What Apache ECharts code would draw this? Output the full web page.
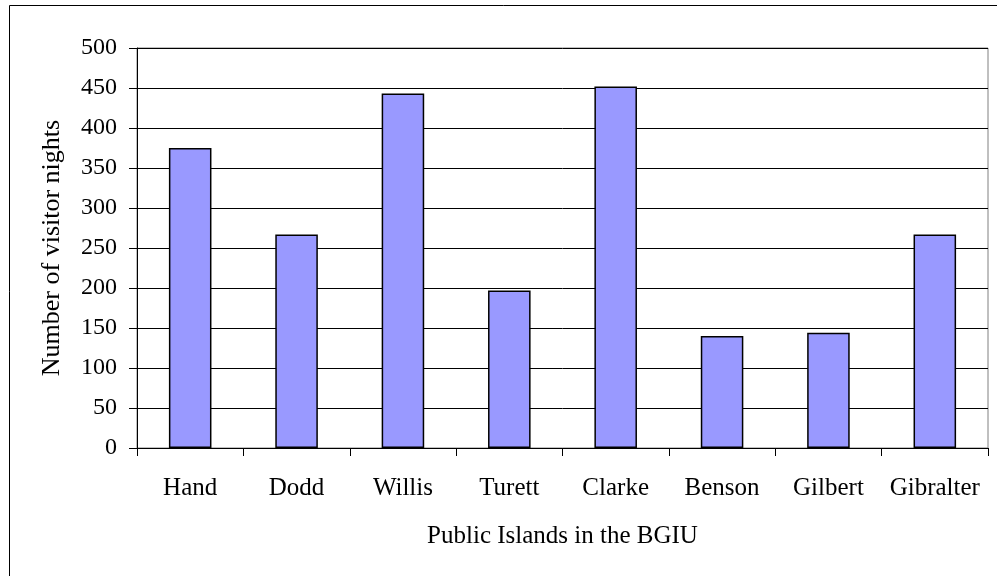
<!DOCTYPE html>
<html>
<head>
<meta charset="utf-8">
<script src="https://cdn.jsdelivr.net/npm/echarts@6/dist/echarts.min.js"></script>
<style>
  html, body { margin: 0; padding: 0; background: #fff; }
</style>
</head>
<body>
<div id="chart" style="width: 997px; height: 576px;"></div>
<script>
// islands and visitor nights
const islands = ['Hand', 'Dodd', 'Willis', 'Turett', 'Clarke', 'Benson', 'Gilbert', 'Gibralter'];
const visitorNights = [375, 267, 443, 197, 452, 140, 144, 267];

const serif = '"Liberation Serif", "DejaVu Serif", serif';

const myChart = echarts.init(document.getElementById('chart'));
myChart.setOption({
  backgroundColor: '#fff',
  animation: false,
  graphic: [{
    type: 'rect',
    shape: {x: 9.5, y: 5.5, width: 1000, height: 600},
    style: {fill: null, stroke: '#000', lineWidth: 1},
    z: -1
  }],
  grid: {
    left: 137, right: 9, top: 48, bottom: 128,
    show: true, borderColor: '#808080', borderWidth: 1,
    backgroundColor: '#fff'
  },
  xAxis: {
    type: 'category',
    data: islands,
    name: 'Public Islands in the BGIU',
    nameLocation: 'middle',
    nameGap: 76,
    nameTextStyle: {fontFamily: serif, fontSize: 25, color: '#000'},
    axisLine: {lineStyle: {color: '#000', width: 1}},
    axisTick: {show: true, length: 8, interval: 0, alignWithLabel: false, lineStyle: {color: '#000'}},
    axisLabel: {fontFamily: serif, fontSize: 25, color: '#000', margin: 28, interval: 0},
    splitLine: {show: false}
  },
  yAxis: {
    type: 'value',
    min: 0, max: 500, interval: 50,
    name: 'Number of visitor nights',
    nameLocation: 'middle',
    nameGap: 72,
    nameTextStyle: {fontFamily: serif, fontSize: 26, color: '#000'},
    axisLine: {show: true, lineStyle: {color: '#000', width: 1}},
    axisTick: {show: true, length: 8, lineStyle: {color: '#000'}},
    axisLabel: {fontFamily: serif, fontSize: 24, color: '#000', margin: 20},
    splitLine: {show: true, lineStyle: {color: '#000', width: 1}}
  },
  series: [{
    name: 'Visitor nights',
    type: 'bar',
    data: visitorNights,
    barCategoryGap: '60%',
    itemStyle: {color: '#9999FF', borderColor: '#000', borderWidth: 1.5}
  }]
});
</script>
</body>
</html>
